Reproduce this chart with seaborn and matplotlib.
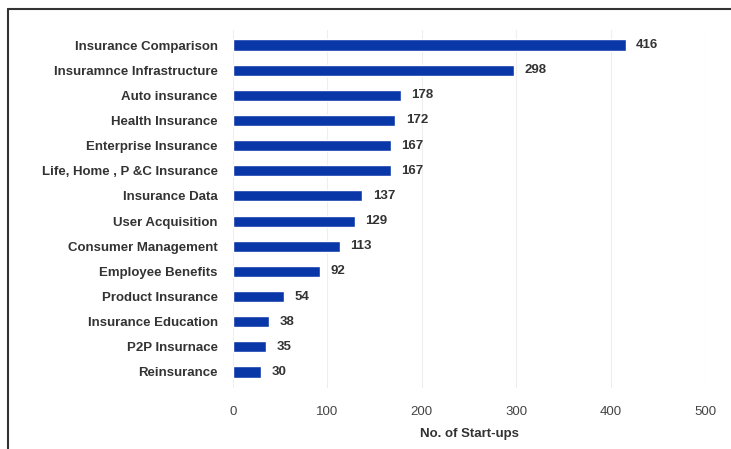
import matplotlib
matplotlib.use("Agg")
import matplotlib.pyplot as plt
import seaborn as sns
import pandas as pd
from matplotlib.lines import Line2D

categories = ["Insurance Comparison", "Insuramnce Infrastructure", "Auto insurance",
              "Health Insurance", "Enterprise Insurance", "Life, Home , P &C Insurance",
              "Insurance Data", "User Acquisition", "Consumer Management",
              "Employee Benefits", "Product Insurance", "Insurance Education",
              "P2P Insurnace", "Reinsurance"]
values = [416, 298, 178, 172, 167, 167, 137, 129, 113, 92, 54, 38, 35, 30]
xticks = [0, 100, 200, 300, 400, 500]
xlabel = "No. of Start-ups"

sns.set_theme(style="white")
plt.rcParams['font.family'] = ['Liberation Sans', 'DejaVu Sans']

df = pd.DataFrame({"cat": categories, "val": values})

fig = plt.figure(figsize=(7.31, 4.49), dpi=100)
ax = fig.add_axes([233/731, 1-388/449, (705-233)/731, (388-30)/449])

sns.barplot(data=df, y="cat", x="val", orient="h", color="#0a37a8",
            width=0.44, saturation=1, ax=ax, zorder=3)

ax.set_xlim(0, 500)
ax.set_ylim(13 + (388-372)/25.15, -(45-30)/25.15)
ax.set_xticks(xticks)
ax.set_xticklabels([str(t) for t in xticks], fontsize=9.5, color="#444444")
ax.set_yticklabels(categories, fontsize=9.5, color="#333333", fontweight="bold")
ax.tick_params(axis="x", length=0, pad=13)
ax.tick_params(axis="y", length=0, pad=11)
ax.set_ylabel("")
ax.set_xlabel(xlabel, fontsize=9.5, color="#333333", fontweight="bold", labelpad=7)
for s in ax.spines.values():
    s.set_visible(False)
ax.xaxis.grid(True, color="#eeeeee", linewidth=0.8, zorder=0)

for i, v in enumerate(values):
    ax.text(v + 11, i, str(v), va="center", ha="left", fontsize=9.5,
            color="#333333", fontweight="bold")

fig.add_artist(Line2D([8/731, 1], [1-9/449, 1-9/449], transform=fig.transFigure,
                      color="#333333", linewidth=1.5))
fig.add_artist(Line2D([8/731, 8/731], [0, 1-9/449], transform=fig.transFigure,
                      color="#333333", linewidth=1.5))

fig.savefig("out.png", dpi=100)
